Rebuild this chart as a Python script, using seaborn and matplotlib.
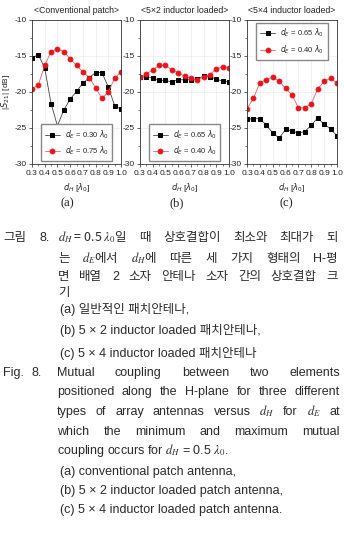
import matplotlib.pyplot as plt
import seaborn as sns
from matplotlib import font_manager
from matplotlib.ticker import MultipleLocator
from matplotlib.transforms import IdentityTransform

# data (|S21| in dB versus d_H in lambda_0)
d_h = [0.30, 0.35, 0.40, 0.45, 0.50, 0.55, 0.60, 0.65, 0.70, 0.75, 0.80, 0.85, 0.90, 0.95, 1.00]

conv_de030 = [-15.3, -14.8, -16.7, -21.6, -24.7, -22.5, -21.0, -19.9, -18.8, -18.0, -17.3, -17.3, -19.3, -21.9, -22.4]
conv_de075 = [-19.6, -19.0, -16.3, -14.4, -14.0, -14.4, -15.4, -16.3, -17.2, -18.0, -19.4, -20.9, -20.0, -18.1, -17.2]
ind52_de065 = [-17.9, -17.9, -18.0, -18.4, -18.4, -18.6, -18.3, -18.3, -18.3, -18.2, -17.8, -17.9, -18.2, -18.5, -18.6]
ind52_de040 = [-17.9, -17.5, -16.9, -16.3, -16.3, -16.9, -17.3, -17.8, -18.1, -18.3, -17.9, -17.6, -16.8, -16.5, -16.6]
ind54_de065 = [-23.8, -23.7, -23.7, -24.6, -25.7, -26.4, -25.2, -25.4, -25.7, -25.5, -24.6, -23.6, -24.5, -25.1, -26.1]
ind54_de040 = [-22.3, -20.9, -18.7, -18.3, -17.9, -18.5, -19.5, -20.4, -22.2, -22.2, -21.6, -19.6, -18.5, -18.1, -18.8]

titles = ['<Conventional patch>', '<5×2 inductor loaded>', '<5×4 inductor loaded>']
panel_tags = ['(a)', '(b)', '(c)']
black_labels = [r'$d_E$ = 0.30 $\lambda_0$', r'$d_E$ = 0.65 $\lambda_0$', r'$d_E$ = 0.65 $\lambda_0$']
red_labels = [r'$d_E$ = 0.75 $\lambda_0$', r'$d_E$ = 0.40 $\lambda_0$', r'$d_E$ = 0.40 $\lambda_0$']
black_series = [conv_de030, ind52_de065, ind54_de065]
red_series = [conv_de075, ind52_de040, ind54_de040]
x_ticks = [0.3, 0.4, 0.5, 0.6, 0.7, 0.8, 0.9, 1.0]
x_tick_labels = ['0.3', '0.4', '0.5', '0.6', '0.7', '0.8', '0.9', '1.0']
y_ticks = [-30, -25, -20, -15, -10]

sns.set_style('ticks')
plt.rcParams['font.family'] = ['Liberation Sans', 'DejaVu Sans']
plt.rcParams['axes.unicode_minus'] = False

W, H = 344, 543
fig = plt.figure(figsize=(W / 100, H / 100), dpi=100)

boxes = [(32, 121), (140, 229), (247, 337)]
top, bottom = 20, 164
legend_loc = ['lower center', 'lower center', 'upper center']
tag_x = [67, 177, 286]

for i in range(3):
    l, r = boxes[i]
    ax = fig.add_axes([l / W, 1 - bottom / H, (r - l) / W, (bottom - top) / H])
    sns.lineplot(x=d_h, y=black_series[i], ax=ax, color='#444444', lw=0.6,
                 marker='s', markersize=3, markerfacecolor='black',
                 markeredgecolor='black', label=black_labels[i])
    sns.lineplot(x=d_h, y=red_series[i], ax=ax, color='#e86060', lw=0.6,
                 marker='o', markersize=3.4, markerfacecolor='#e8141c',
                 markeredgecolor='#e8141c', label=red_labels[i])
    ax.set_xlim(0.3, 1.0)
    ax.set_ylim(-30, -10)
    ax.set_xticks(x_ticks)
    ax.set_xticklabels(x_tick_labels)
    ax.set_yticks(y_ticks)
    ax.xaxis.set_minor_locator(MultipleLocator(0.05))
    ax.yaxis.set_minor_locator(MultipleLocator(2.5))
    ax.tick_params(which='major', labelsize=6, length=2.5, width=0.5, pad=1.5, colors='#222222')
    ax.tick_params(which='minor', length=1.5, width=0.4, colors='#222222')
    ax.grid(True, color='#ececec', lw=0.5)
    for s in ax.spines.values():
        s.set_linewidth(0.6)
        s.set_color('#333333')
    ax.set_title(titles[i], fontsize=6.3, pad=5, color='#222222')
    ax.set_xlabel(r'$d_H$ [$\lambda_0$]', fontsize=6, labelpad=3)
    if i == 0:
        ax.set_ylabel(r'|$S_{21}$| [dB]', fontsize=6)
        ax.yaxis.set_label_coords(-20 / (r - l), 0.5)
    else:
        ax.set_ylabel('')
    ax.legend(loc=legend_loc[i], fontsize=5.5, frameon=True, fancybox=False,
              edgecolor='#888888', framealpha=1, borderpad=0.5,
              handlelength=2.0, handletextpad=0.6, labelspacing=0.5,
              borderaxespad=0.4)
    fig.text(tag_x[i] / W, 1 - 203 / H, panel_tags[i], ha='center', va='center',
             family='Liberation Serif', fontsize=9, color='#222222')

# caption
renderer = fig.canvas.get_renderer()
installed = {f.name for f in font_manager.fontManager.ttflist}
if 'Liberation Sans Narrow' in installed:
    latin, cap_size = 'Liberation Sans Narrow', 10
else:
    latin, cap_size = 'Liberation Sans', 9
cap_font = [latin, 'Noto Sans CJK KR', 'DejaVu Sans']
kor_font = ['Noto Sans CJK KR', 'DejaVu Sans']
ident = IdentityTransform()


def family_for(t):
    # mathtext strings get no font fallback, so Korean + math needs the CJK font first
    if '$' in t and any(c >= '\uac00' for c in t):
        return kor_font
    return cap_font


def text_line(tokens, y, x0, x1=None, color='#2a2a2a'):
    kw = dict(transform=ident, fontsize=cap_size, color=color,
              va='baseline', ha='left', math_fontfamily='stix')
    yb = H - (y + 5)
    if x1 is None:
        s = ' '.join(tokens)
        fig.text(x0, yb, s, family=family_for(s), **kw)
        return
    arts = [fig.text(0, yb, t, family=family_for(t), **kw) for t in tokens]
    widths = [a.get_window_extent(renderer).width for a in arts]
    gap = (x1 - x0 - sum(widths)) / (len(arts) - 1)
    x = x0
    for a, w in zip(arts, widths):
        a.set_x(x)
        x += w + gap


text_line(['그림'], 236, 3)
text_line(['8.'], 236, 40)
text_line([r'$d_H$ = 0.5 $\lambda_0$일', '때', '상호결합이', '최소와', '최대가', '되'], 236, 58, 338)
text_line(['는', r'$d_E$에서', r'$d_H$에', '따른', '세', '가지', '형태의', 'H-평'], 257, 58, 338)
text_line(['면', '배열', '2', '소자', '안테나', '소자', '간의', '상호결합', '크'], 275, 58, 338)
text_line(['기'], 291, 58)
text_line(['(a) 일반적인 패치안테나,'], 308, 60)
text_line(['(b) 5 × 2 inductor loaded 패치안테나,'], 329, 60)
text_line(['(c) 5 × 4 inductor loaded 패치안테나'], 352, 60)
text_line(['Fig.'], 371, 3)
text_line(['8.'], 371, 32)
text_line(['Mutual', 'coupling', 'between', 'two', 'elements'], 371, 57, 340)
text_line('positioned along the H-plane for three different'.split(), 390, 57, 340)
text_line(['types', 'of', 'array', 'antennas', 'versus', r'$d_H$', 'for', r'$d_E$', 'at'], 410, 57, 340)
text_line(['which', 'the', 'minimum', 'and', 'maximum', 'mutual'], 430, 57, 340)
text_line([r'coupling occurs for $d_H$ = 0.5 $\lambda_0$.'], 449, 57)
text_line(['(a) conventional patch antenna,'], 470, 60)
text_line(['(b) 5 × 2 inductor loaded patch antenna,'], 489, 60)
text_line(['(c) 5 × 4 inductor loaded patch antenna.'], 508, 60)

fig.savefig('out.png', dpi=100)
